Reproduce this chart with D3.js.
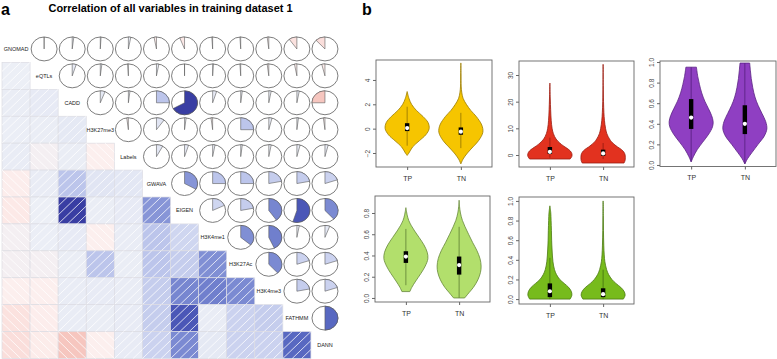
<!DOCTYPE html>
<html>
<head>
<meta charset="utf-8">
<script src="https://cdn.jsdelivr.net/npm/d3@7"></script>
<style>
body { margin: 0; background: #fff; }
text { font-family: "Liberation Sans", Arial, sans-serif; }
</style>
</head>
<body>
<svg id="fig" width="777" height="359"></svg>
<script>
// ---- panel a: correlations (upper triangle, row i holds r(i, i+1..11))
var vars = ["GNOMAD","eQTLs","CADD","H3K27me3","Labels","GWAVA","EIGEN","H3K4me1","H3K27Ac","H3K4me3","FATHMM","DANN"];
var corGNOMAD   = [0.00, 0.02, 0.01, 0.03, -0.03, -0.06, -0.01, -0.01, -0.02, -0.10, -0.12];
var corEQTLs    = [0.05, 0.02, -0.01, 0.03, 0.00, 0.01, -0.01, -0.02, -0.03, -0.04];
var corCADD     = [0.06, 0.02, 0.25, 0.67, 0.05, 0.02, 0.03, 0.03, -0.25];
var corH3K27me3 = [-0.02, 0.10, 0.02, -0.02, 0.25, 0.04, 0.02, -0.02];
var corLabels   = [0.08, 0.05, 0.03, 0.02, 0.03, 0.04, 0.04];
var corGWAVA    = [0.33, 0.25, 0.25, 0.22, 0.22, 0.20];
var corEIGEN    = [0.18, 0.22, 0.40, 0.55, 0.38];
var corH3K4me1  = [0.36, 0.43, 0.03, 0.06];
var corH3K27Ac  = [0.38, 0.20, 0.20];
var corH3K4me3  = [0.22, 0.20];
var corFATHMM   = [0.50];

// ---- panel b: violins, [value, relative density]
var groups = ["TP","TN"];
var yellowTP = [[-2.2,0],[-2.0,0.08],[-1.5,0.25],[-1.0,0.55],[-0.5,0.85],[0,1.0],[0.5,0.95],[1.0,0.72],[1.5,0.42],[2.0,0.2],[2.5,0.08],[3.05,0]];
var yellowTN = [[-2.9,0],[-2.5,0.1],[-2.0,0.3],[-1.5,0.55],[-1.0,0.8],[-0.3,1.0],[0.3,0.95],[1.0,0.7],[1.5,0.45],[2.0,0.25],[2.5,0.1],[3.0,0.04],[3.5,0.015],[4.5,0.008],[5.4,0]];
var yellowStats = [[-1.4,-0.2,0.05,0.45,1.8],[-1.6,-0.5,-0.25,0.1,1.3]];
var redTP = [[-1.5,0.92],[-0.5,1.0],[0.5,1.0],[1.5,0.93],[2.5,0.78],[3.5,0.6],[4.5,0.45],[6,0.28],[8,0.16],[10,0.1],[13,0.06],[17,0.035],[21,0.018],[27,0]];
var redTN = [[-3,0.95],[-2,1.0],[0,1.0],[1,0.95],[2,0.84],[3,0.66],[4,0.5],[5,0.38],[6,0.29],[8,0.17],[10,0.11],[13,0.06],[16,0.035],[20,0.018],[26,0.008],[34,0]];
var redStats = [[-1,0.4,1.2,3.0,6.5],[-1.5,-0.3,0.6,2.0,4.5]];
var purpleTP = [[0.03,0],[0.08,0.1],[0.15,0.28],[0.22,0.52],[0.3,0.8],[0.37,0.97],[0.42,1.0],[0.48,0.93],[0.55,0.78],[0.62,0.62],[0.7,0.48],[0.78,0.38],[0.86,0.3],[0.95,0.24]];
var purpleTN = [[0.01,0],[0.06,0.12],[0.12,0.32],[0.2,0.6],[0.28,0.88],[0.35,1.0],[0.42,0.95],[0.5,0.78],[0.58,0.6],[0.66,0.46],[0.75,0.36],[0.84,0.29],[0.92,0.25],[0.99,0.22]];
var purpleStats = [[0.03,0.35,0.46,0.64,0.95],[0.01,0.3,0.4,0.58,0.99]];
var lightTP = [[0.06,0.18],[0.1,0.27],[0.16,0.45],[0.23,0.68],[0.3,0.88],[0.37,1.0],[0.43,0.97],[0.5,0.82],[0.57,0.6],[0.63,0.4],[0.68,0.25],[0.73,0.13],[0.78,0.06],[0.85,0]];
var lightTN = [[0.0,0.25],[0.05,0.45],[0.1,0.65],[0.17,0.85],[0.24,0.97],[0.3,1.0],[0.37,0.95],[0.45,0.8],[0.52,0.62],[0.6,0.43],[0.67,0.27],[0.73,0.15],[0.8,0.06],[0.86,0.02],[0.92,0]];
var lightStats = [[0.12,0.33,0.39,0.44,0.65],[0.0,0.22,0.31,0.39,0.67]];
var greenTP = [[0,0.92],[0.04,1.0],[0.08,0.97],[0.12,0.85],[0.16,0.65],[0.2,0.45],[0.25,0.3],[0.3,0.21],[0.38,0.14],[0.5,0.1],[0.6,0.08],[0.7,0.07],[0.8,0.055],[0.88,0.04],[0.95,0]];
var greenTN = [[0,0.92],[0.04,1.0],[0.08,0.95],[0.12,0.8],[0.16,0.58],[0.2,0.4],[0.25,0.25],[0.3,0.16],[0.38,0.08],[0.45,0.05],[0.55,0.03],[0.7,0.015],[0.85,0.008],[1.0,0]];
var greenStats = [[0.0,0.02,0.08,0.16,0.42],[0.0,0.02,0.05,0.11,0.3]];
var ticks1 = [-2,0,2,4];
var ticks2 = [0,10,20,30];
var ticks3 = [0,0.2,0.4,0.6,0.8,1.0];
var ticks4 = [0,0.2,0.4,0.6,0.8];
var ticks5 = [0,0.2,0.4,0.6,0.8,1.0];

var svg = d3.select("#fig");

// ---------------- panel a
svg.append("text").attr("x", 1).attr("y", 15).attr("font-size", 16).attr("font-weight", "bold").text("a");
svg.append("text").attr("x", 170.5).attr("y", 12).attr("font-size", 10.5).attr("font-weight", "bold")
  .attr("text-anchor", "middle").attr("textLength", 244).attr("lengthAdjust", "spacingAndGlyphs")
  .text("Correlation of all variables in training dataset 1");

var upper = [corGNOMAD, corEQTLs, corCADD, corH3K27me3, corLabels, corGWAVA, corEIGEN, corH3K4me1, corH3K27Ac, corH3K4me3, corFATHMM];
var n = vars.length;
var M = [];
for (var i = 0; i < n; i++) { M.push([]); for (var j = 0; j < n; j++) M[i].push(1); }
upper.forEach(function(row, i) {
  row.forEach(function(v, k) { M[i][i+1+k] = v; M[i+1+k][i] = v; });
});

var xs = d3.scaleBand().domain(vars).range([2, 339]);
var ys = d3.scaleBand().domain(vars).range([35.5, 358.5]);
var cw = xs.bandwidth(), ch = ys.bandwidth();

var color = d3.scaleLinear()
  .domain([-0.3, -0.1, -0.02, 0, 0.1, 0.2, 0.27, 0.33, 0.45, 0.52, 0.6, 0.7])
  .range(["#f4bcb4","#fbe2df","#fcefee","#eceff6","#e1e5f3","#cbd2ef","#b6c0e9","#8795d7","#6b7bcb","#5160bd","#4049ad","#363a9e"])
  .clamp(true);

var cells = [];
var pies = [];
for (var i = 0; i < n; i++) for (var j = 0; j < n; j++) {
  if (i > j) cells.push({r: vars[i], c: vars[j], v: M[i][j]});
  if (i < j) pies.push({r: vars[i], c: vars[j], v: M[i][j]});
}

var cellG = svg.append("g").selectAll("g").data(cells).enter().append("g")
  .attr("transform", function(d) { return "translate(" + xs(d.c) + "," + ys(d.r) + ")"; });
cellG.append("rect").attr("width", cw).attr("height", ch)
  .attr("fill", function(d) { return color(d.v); })
  .attr("stroke", "#dcdce3").attr("stroke-width", 0.7);

// white hatch lines, "/" for positive, "\" for negative
cellG.each(function(d) {
  var g = d3.select(this);
  [-2, -1, 0, 1, 2].forEach(function(k) {
    var c = k * cw / 3;
    var t0 = Math.max(0, -c / cw), t1 = Math.min(1, (cw - c) / cw);
    if (t1 <= t0) return;
    var u0 = c + t0 * cw, v0 = ch * (1 - t0), u1 = c + t1 * cw, v1 = ch * (1 - t1);
    if (d.v < 0) { u0 = cw - u0; u1 = cw - u1; }
    g.append("line").attr("x1", u0).attr("y1", v0).attr("x2", u1).attr("y2", v1)
      .attr("stroke", "#fff").attr("stroke-width", 0.9).attr("stroke-opacity", 0.85);
  });
});

// diagonal labels
svg.append("g").selectAll("text").data(vars).enter().append("text")
  .attr("x", function(d) { return xs(d) + cw / 2; })
  .attr("y", function(d) { return ys(d) + ch / 2 + 2; })
  .attr("text-anchor", "middle").attr("font-size", 5.5).attr("fill", "#222")
  .text(function(d) { return d; });

// pies
var arc = d3.arc().innerRadius(0).outerRadius(13).startAngle(0);
var pieG = svg.append("g").selectAll("g").data(pies).enter().append("g")
  .attr("transform", function(d) { return "translate(" + (xs(d.c) + cw / 2) + "," + (ys(d.r) + ch / 2) + ") scale(1,0.92)"; });
pieG.append("circle").attr("r", 13).attr("fill", "#fff")
  .attr("stroke", "#6a6a6a").attr("stroke-width", 0.9);
pieG.append("path")
  .attr("d", function(d) { return arc({endAngle: d.v * 2 * Math.PI}); })
  .attr("fill", function(d) { return color(d.v); })
  .attr("stroke", "#555").attr("stroke-width", 0.6);

// ---------------- panel b
svg.append("text").attr("x", 362).attr("y", 15).attr("font-size", 16).attr("font-weight", "bold").text("b");

var panels = [
  {left: 376, right: 492, top: 60, bottom: 167, dom: [-3.15, 5.64], ticks: ticks1, fmt: d3.format("d"),
   fill: "#f6c500", line: "#9c7c00", vio: [yellowTP, yellowTN], stats: yellowStats},
  {left: 519, right: 634, top: 61, bottom: 167, dom: [-4.5, 35.25], ticks: ticks2, fmt: d3.format("d"),
   fill: "#e2321f", line: "#9a1d12", vio: [redTP, redTN], stats: redStats},
  {left: 660, right: 776, top: 61, bottom: 166.5, dom: [-0.015, 1.01], ticks: ticks3, fmt: d3.format(".1f"),
   fill: "#8f3fc2", line: "#5a2383", vio: [purpleTP, purpleTN], stats: purpleStats},
  {left: 375, right: 490, top: 196, bottom: 302, dom: [-0.038, 0.96], ticks: ticks4, fmt: d3.format(".1f"),
   fill: "#b2df6c", line: "#66883a", vio: [lightTP, lightTN], stats: lightStats},
  {left: 519, right: 634, top: 197, bottom: 304, dom: [-0.05, 1.04], ticks: ticks5, fmt: d3.format(".1f"),
   fill: "#77bb1c", line: "#4a7812", vio: [greenTP, greenTN], stats: greenStats}
];

panels.forEach(function(p) {
  var g = svg.append("g");
  var y = d3.scaleLinear().domain(p.dom).range([p.bottom, p.top]);
  var x = d3.scaleLinear().domain([0.42, 2.58]).range([p.left, p.right]);
  var wScale = d3.scaleLinear().domain([0, 1]).range([0, 22]);

  p.vio.forEach(function(pts, gi) {
    var cx = x(gi + 1);
    var area = d3.area()
      .y(function(d) { return y(d[0]); })
      .x0(function(d) { return cx - wScale(d[1]); })
      .x1(function(d) { return cx + wScale(d[1]); })
      .curve(d3.curveCatmullRom);
    g.append("path").attr("d", area(pts)).attr("fill", p.fill)
      .attr("stroke", p.line).attr("stroke-width", 0.8);
    var s = p.stats[gi];
    g.append("line").attr("x1", cx).attr("x2", cx).attr("y1", y(s[0])).attr("y2", y(s[4]))
      .attr("stroke", p.line).attr("stroke-width", 0.9);
    g.append("rect").attr("x", cx - 2.2).attr("width", 4.4)
      .attr("y", y(s[3])).attr("height", y(s[1]) - y(s[3])).attr("fill", "#000");
    g.append("circle").attr("cx", cx).attr("cy", y(s[2])).attr("r", 2.1).attr("fill", "#fff");
  });

  g.append("rect").attr("x", p.left).attr("y", p.top)
    .attr("width", p.right - p.left).attr("height", p.bottom - p.top)
    .attr("fill", "none").attr("stroke", "#666").attr("stroke-width", 0.9);

  var ya = g.append("g").attr("transform", "translate(" + p.left + ",0)")
    .call(d3.axisLeft(y).tickValues(p.ticks).tickFormat(p.fmt).tickSize(3).tickSizeOuter(0));
  ya.select(".domain").remove();
  ya.selectAll("line").attr("stroke", "#666");
  ya.selectAll("text").attr("transform", "rotate(-90)").attr("x", 0).attr("y", -6).attr("dy", 0)
    .attr("text-anchor", "middle").attr("font-size", 6.5).attr("fill", "#444");

  var xa = g.append("g").attr("transform", "translate(0," + p.bottom + ")")
    .call(d3.axisBottom(x).tickValues([1, 2]).tickFormat(function(d) { return groups[d - 1]; }).tickSize(3).tickPadding(6));
  xa.select(".domain").remove();
  xa.selectAll("line").attr("stroke", "#666");
  xa.selectAll("text").attr("font-size", 7).attr("fill", "#333");
});
</script>
</body>
</html>
